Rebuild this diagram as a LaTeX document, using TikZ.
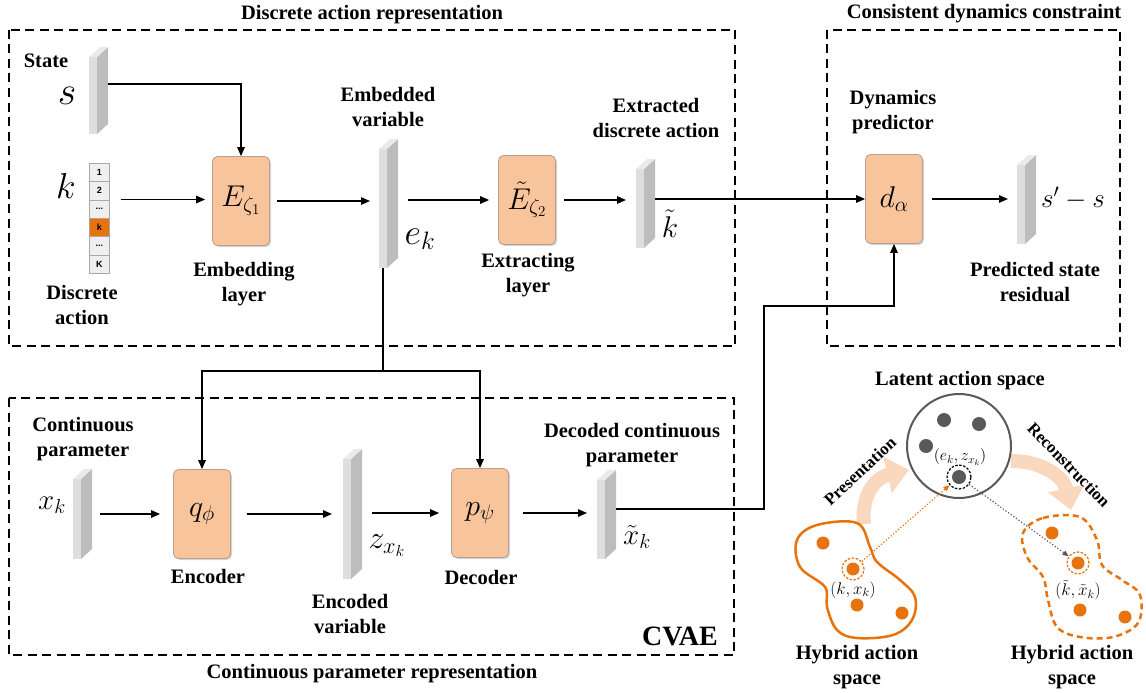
\RequirePackage{fix-cm}
\documentclass[tikz,border=0pt]{standalone}
\usepackage{fontspec}
\setmainfont{Liberation Serif}
\newfontfamily\sansf{Liberation Sans}
\usetikzlibrary{arrows.meta,shadows}
\definecolor{boxfill}{HTML}{F8C49C}
\definecolor{boxdraw}{HTML}{B8A090}
\definecolor{slabF}{HTML}{DEDEDE}
\definecolor{slabS}{HTML}{BDBDBD}
\definecolor{slabT}{HTML}{EAEAEA}
\definecolor{orng}{HTML}{E8720C}
\definecolor{dgrey}{HTML}{595959}
\definecolor{peach}{HTML}{FAD8BE}
\definecolor{cellF}{HTML}{EFEFEF}
\definecolor{cellD}{HTML}{A8A8A8}
\newcommand{\slab}[4]{%
  \node[slabfront, minimum height=#4pt, anchor=north west] (#1) at (#2,#3) {};
  \fill[slabS] (#1.north east) -- ++(11,-10) -- ++(0,#4) -- (#1.south east) -- cycle;
  \fill[slabT] (#1.north west) -- ++(11,-10) -- ++(8,0) -- (#1.north east) -- cycle;
}
\begin{document}
\begin{tikzpicture}[x=1pt,y=-1pt,
  frame/.style={draw, dash pattern=on 9pt off 5.5pt, line width=1.4pt},
  block/.style={draw=boxdraw, fill=boxfill, rounded corners=5pt, minimum width=57pt, minimum height=89pt, line width=0.8pt, inner sep=0pt,
     drop shadow={shadow xshift=1.5pt, shadow yshift=-1.5pt, opacity=0.35}},
  lbl/.style={font=\fontsize{20.5}{25}\selectfont\bfseries, align=center},
  arr/.style={-{Triangle[length=9pt,width=7.5pt]}, line width=1.3pt},
  slabfront/.style={fill=slabF, minimum width=8pt, inner sep=0pt, outer sep=0pt},
  cell/.style={draw=cellD, fill=cellF, line width=0.6pt, minimum width=20pt, minimum height=18.4pt, inner sep=0pt, anchor=north west, font=\sansf\bfseries\fontsize{9}{10}\selectfont},
  odot/.style={circle, fill=orng, minimum size=13pt, inner sep=0pt},
  gdot/.style={circle, fill=dgrey, minimum size=14pt, inner sep=0pt},
  oring/.style={circle, draw=orng, dash pattern=on 2.5pt off 1.5pt, line width=1.2pt, minimum size=22pt, inner sep=0pt},
  gring/.style={circle, draw=black, dash pattern=on 2.5pt off 1.5pt, line width=1.2pt, minimum size=24pt, inner sep=0pt}]
\useasboundingbox (0,0) rectangle (1146,693);

% frames
\draw[frame] (9,30) rectangle (735,346);
\draw[frame] (827,30) rectangle (1120,346);
\draw[frame] (9,398) rectangle (734,655);
\node[lbl] (t1) at (372,15) {Discrete action representation};
\node[lbl] (t2) at (984,14) {Consistent dynamics constraint};
\node[lbl] (t3) at (372,674) {Continuous parameter representation};
\node[font=\fontsize{28}{30}\selectfont\bfseries] (cvae) at (680,636) {CVAE};

% slabs
\slab{sS}{89}{57}{77}
\slab{ek}{379}{149}{119}
\slab{kt}{636}{169}{79}
\slab{res}{1017}{165}{79}
\slab{xk}{73}{479}{80}
\slab{zz}{343}{459}{120}
\slab{xt}{597}{480}{79}

% discrete action vector
\node[cell] (c1) at (89,162.7) {1};
\node[cell] (c2) at (89,181.1) {2};
\node[cell] (c3) at (89,199.5) {...};
\node[cell, fill=orng] (c4) at (89,217.9) {k};
\node[cell] (c5) at (89,236.3) {...};
\node[cell] (c6) at (89,254.7) {K};

% blocks
\node[block] (E1) at (241,201) {\fontsize{30}{30}\selectfont$E_{\zeta_1}$};
\node[block] (E2) at (527,200) {\fontsize{30}{30}\selectfont$\tilde{E}_{\zeta_2}$};
\node[block] (d) at (894,199) {\fontsize{30}{30}\selectfont$d_{\alpha}$};
\node[block] (q) at (202,514) {\fontsize{30}{30}\selectfont$q_{\phi}$};
\node[block] (p) at (480,513) {\fontsize{30}{30}\selectfont$p_{\psi}$};

% labels
\node[lbl] (lstate) at (46,61) {State};
\node[font=\fontsize{40}{40}\selectfont] (ls) at (67,96) {$s$};
\node[font=\fontsize{36}{36}\selectfont] (lk) at (66,186) {$k$};
\node[lbl] (lda) at (82,305) {Discrete\\action};
\node[lbl] (lemb) at (244,284.5) {Embedding\\layer};
\node[lbl] (lev) at (388,107) {Embedded\\variable};
\node[font=\fontsize{36}{36}\selectfont] (lek) at (420,239) {$e_k$};
\node[lbl] (lext) at (528,275) {Extracting\\layer};
\node[lbl] (lxda) at (656,118) {Extracted\\discrete action};
\node[font=\fontsize{30}{30}\selectfont] (lkt) at (670,224) {$\tilde{k}$};
\node[lbl] (ldp) at (893,112) {Dynamics\\predictor};
\node[font=\fontsize{27}{27}\selectfont] (lres) at (1073,198) {$s'-s$};
\node[lbl] (lpsr) at (1035,282) {Predicted state\\residual};
\node[lbl] (lcp) at (83,439) {Continuous\\parameter};
\node[font=\fontsize{29}{29}\selectfont] (lxk) at (52,505) {$x_k$};
\node[lbl] (lenc) at (208,576) {Encoder};
\node[font=\fontsize{32}{32}\selectfont] (lz) at (387,546) {$z_{x_k}$};
\node[lbl] (lencv) at (350,614) {Encoded\\variable};
\node[lbl] (ldec) at (481,577) {Decoder};
\node[lbl] (ldcp) at (632,445) {Decoded continuous\\parameter};
\node[font=\fontsize{29}{29}\selectfont] (lxt) at (637,537) {$\tilde{x}_k$};

% connectors
\coordinate (split) at (383,371);
\coordinate (c1bend) at (764,306);
\draw[arr] ([xshift=11pt,yshift=11.5pt]sS.east) -| (E1.north);
\draw[arr] ([xshift=11pt]c3.north east) -- ([xshift=-7pt]E1.west |- c3.north east);
\draw[arr] ([xshift=7pt]E1.east) -- ([xshift=-9pt]ek.west |- E1.east);
\draw[arr] ([xshift=21pt]ek.east |- E2.west) -- ([xshift=-9pt]E2.west);
\draw[arr] ([xshift=8pt]E2.east) -- ([xshift=-10pt]kt.west |- E2.east);
\draw[arr] ([xshift=11pt]kt.east |- d.west) -- (d.west);
\draw[arr] ([xshift=9pt]d.east) -- ([xshift=-9pt]res.west |- d.east);
\draw[line width=1.3pt] (ek.south) -- (split);
\draw[arr] (split) -| (q.north);
\draw[arr] (split) -| (p.north);
\draw[arr] ([xshift=19pt]xk.east |- q.west) -- ([xshift=-13pt]q.west);
\draw[arr] ([xshift=16pt]q.east) -- ([xshift=-11pt]zz.west |- q.east);
\draw[arr] ([xshift=21pt]zz.east |- p.west) -- ([xshift=-12pt]p.west);
\draw[arr] ([xshift=14pt]p.east) -- ([xshift=-10pt]xt.west |- p.east);
\draw[arr] ([xshift=11pt,yshift=10.5pt]xt.east) -| (c1bend) -| (d.south);

% right-bottom panel
\draw[peach, line width=14pt, -{Triangle[length=22pt,width=36pt]}] (864,524) .. controls (861,497) and (874,478) .. (909,470);
\draw[peach, line width=14pt, -{Triangle[length=22pt,width=36pt]}] (1011,461) .. controls (1044,461) and (1064,478) .. (1071,510);
\node[lbl, font=\fontsize{17}{18}\selectfont\bfseries, rotate=43] (lpres) at (860,471) {Presentation};
\node[lbl, font=\fontsize{17}{18}\selectfont\bfseries, rotate=-46] (lrec) at (1069,465) {Reconstruction};
\node[lbl] (llat) at (960,381) {Latent action space};
\node[circle, draw=dgrey, line width=2pt, minimum size=104pt, inner sep=0pt] (lat) at (959,446) {};
\node[gdot] (g1) at (944,420) {};
\node[gdot] (g2) at (979,424) {};
\node[gdot] (g3) at (926,446) {};
\node[gdot] (g4) at (959,477) {};
\node[gring] (cr) at (959,477) {};
\node[font=\fontsize{16}{17}\selectfont, inner sep=1pt] (lez) at (960,457) {$(e_k,z_{x_k})$};

\draw[orng, line width=2.5pt] plot[smooth cycle, tension=0.6] coordinates {(797,540) (817,525) (857,523) (870,547) (877,562) (900,580) (915,597) (912,620) (893,635) (857,638) (837,630) (827,607) (825,587) (800,567)};
\draw[orng, line width=2.5pt, dash pattern=on 6pt off 4pt] plot[smooth cycle, tension=0.6] coordinates {(1023,533) (1043,518) (1080,517) (1097,540) (1102,565) (1122,580) (1140,595) (1138,623) (1113,637) (1080,637) (1057,627) (1048,600) (1043,577) (1027,557)};

\node[odot] (l1) at (823,543) {};
\node[odot] (l2) at (853,569) {};
\node[oring] (lr) at (853,569) {};
\node[odot] (l3) at (857,605) {};
\node[odot] (l4) at (902,613) {};
\node[font=\fontsize{17}{18}\selectfont, inner sep=1pt] (lkx) at (853,590) {$(k,x_k)$};

\node[odot] (r1) at (1052,533) {};
\node[odot] (r2) at (1078,563) {};
\node[oring] (rr) at (1078,563) {};
\node[odot] (r3) at (1080,610) {};
\node[odot] (r4) at (1125,617) {};
\node[font=\fontsize{17}{18}\selectfont, inner sep=1pt] (lktx) at (1078,590) {$(\tilde{k},\tilde{x}_k)$};

\draw[orng, dotted, line width=1.2pt, -{Triangle[length=6pt,width=5pt]}] (lr) -- (cr);
\draw[dgrey, dotted, line width=1.2pt, -{Triangle[length=6pt,width=5pt]}] (cr) -- (rr);

\node[lbl] (lh1) at (857,667) {Hybrid action\\space};
\node[lbl] (lh2) at (1072,667) {Hybrid action\\space};
\end{tikzpicture}
\end{document}
